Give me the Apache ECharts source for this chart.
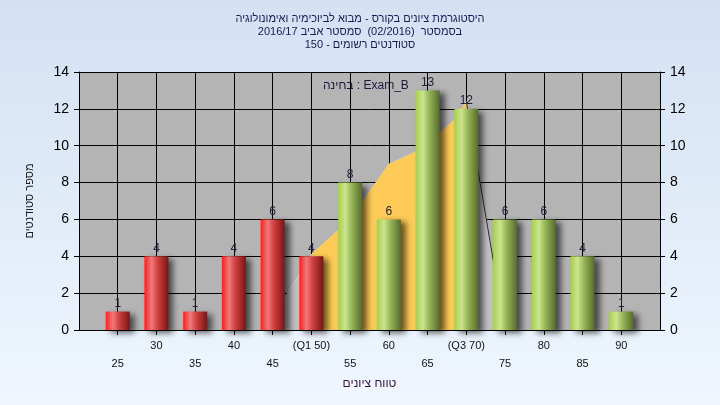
<!DOCTYPE html>
<html>
<head>
<meta charset="utf-8">
<script src="https://cdn.jsdelivr.net/npm/echarts@6/dist/echarts.min.js"></script>
<style>
html,body{margin:0;padding:0;}
#chart{width:720px;height:405px;}
</style>
</head>
<body>
<div id="chart"></div>
<script>
// ---- data ----
const gradeBins = [25, 30, 35, 40, 45, 50, 55, 60, 65, 70, 75, 80, 85, 90];
const studentCounts = [1, 4, 1, 4, 6, 4, 8, 6, 13, 12, 6, 6, 4, 1];
const tickLabels = ['25', '30', '35', '40', '45', '(Q1 50)', '55', '60', '65', '(Q3 70)', '75', '80', '85', '90'];
const failLimit = 50; // bins up to this value drawn red
const curveX = [44, 50, 53.4, 56.5, 60, 63.6, 66.6, 68.2, 70, 75];
const curveY = [0, 4.1, 5.4, 6.9, 9.0, 9.7, 10.7, 11.3, 12.4, 0];
const quartileLow = 50, quartileHigh = 70;
const titleLines = ['היסטוגרמת ציונים בקורס - מבוא לביוכימיה ואימונולוגיה', 'בסמסטר  (02/2016)  סמסטר אביב 2016/17', 'סטודנטים רשומים - 150'];
const legendText = 'בחינה : Exam_B';
const xAxisTitle = 'טווח ציונים';
const yAxisTitle = 'מספר סטודנטים';

const FONT = 'Liberation Sans, Arial, DejaVu Sans, sans-serif';

const redGrad = {type:'linear',x:0,y:0,x2:1,y2:0,colorStops:[
  {offset:0,color:'#ff1c1c'},{offset:0.3,color:'#f07a7a'},{offset:0.55,color:'#d04040'},{offset:1,color:'#7c1414'}]};
const greenGrad = {type:'linear',x:0,y:0,x2:1,y2:0,colorStops:[
  {offset:0,color:'#a6d04a'},{offset:0.3,color:'#cde48e'},{offset:0.55,color:'#98b85a'},{offset:1,color:'#566c2a'}]};

const barData = gradeBins.map((g, i) => ({
  value: [g, studentCounts[i]],
  itemStyle: {color: g <= failLimit ? redGrad : greenGrad}
}));
const curveData = curveX.map((x, i) => [x, curveY[i]]);
const yellowData = curveData.filter(p => p[0] >= quartileLow && p[0] <= quartileHigh);
const rightEdge = curveData.filter(p => p[0] >= quartileHigh);

const labelMap = {};
gradeBins.forEach((g, i) => labelMap[g] = tickLabels[i]);

const chart = echarts.init(document.getElementById('chart'));
chart.setOption({
  animation: false,
  backgroundColor: {type:'linear',x:0,y:0,x2:0,y2:1,colorStops:[{offset:0,color:'#d3e1f3'},{offset:1,color:'#eff6fe'}]},
  textStyle: {fontFamily: FONT},
  title: {
    text: titleLines.join('\n'),
    left: 'center', top: 12, padding: 0,
    textStyle: {fontSize: 11, fontWeight: 'normal', color: '#1a1a50', lineHeight: 13, fontFamily: FONT}
  },
  graphic: [{
    type: 'text', left: 323, top: 80,
    style: {text: legendText, fontSize: 12, fill: '#1a1a40', fontFamily: FONT}
  }],
  grid: {left: 79, right: 60, top: 72, bottom: 75, show: true, backgroundColor: '#b4b4b4', borderWidth: 0},
  xAxis: {
    type: 'value', min: 20, max: 95, interval: 5,
    name: xAxisTitle, nameLocation: 'middle', nameGap: 44,
    nameTextStyle: {fontSize: 12, color: '#3a103a', fontFamily: FONT},
    axisLine: {show: true, lineStyle: {color: '#000', width: 1}},
    axisTick: {show: true, length: 5, lineStyle: {color: '#000'}},
    splitLine: {show: true, lineStyle: {color: '#000', width: 1}},
    axisLabel: {
      color: '#111', fontSize: 11, margin: 7, lineHeight: 18, fontFamily: FONT,
      showMinLabel: false, showMaxLabel: false,
      formatter: v => {
        if (!(v in labelMap)) return '';
        return ((v / 5) % 2 === 1) ? '\n' + labelMap[v] : labelMap[v];
      }
    }
  },
  yAxis: [{
    type: 'value', min: 0, max: 14, interval: 2, position: 'left',
    name: yAxisTitle, nameLocation: 'middle', nameGap: 44, nameRotate: 90,
    nameTextStyle: {fontSize: 11, color: '#1a1a1a', fontFamily: FONT},
    axisLine: {show: true, lineStyle: {color: '#000'}},
    axisTick: {show: true, length: 5, lineStyle: {color: '#000'}},
    splitLine: {show: true, lineStyle: {color: '#000', width: 1}},
    axisLabel: {color: '#000', fontSize: 14, margin: 10, fontFamily: FONT}
  }, {
    type: 'value', min: 0, max: 14, interval: 2, position: 'right',
    axisLine: {show: true, lineStyle: {color: '#000'}},
    axisTick: {show: true, length: 5, lineStyle: {color: '#000'}},
    splitLine: {show: false},
    axisLabel: {color: '#000', fontSize: 14, margin: 10, fontFamily: FONT}
  }],
  series: [{
    type: 'line', data: curveData, symbol: 'none', z: 1,
    lineStyle: {color: '#cdcdcd', width: 1},
    areaStyle: {color: '#c0c0c0', opacity: 1}
  }, {
    type: 'line', data: yellowData, symbol: 'none', z: 2,
    lineStyle: {width: 0},
    areaStyle: {color: '#fecb58', opacity: 1}
  }, {
    type: 'line', data: rightEdge, symbol: 'none', z: 3,
    lineStyle: {color: '#2a2a2a', width: 1}
  }, {
    type: 'bar', data: barData, barWidth: 24, z: 5,
    itemStyle: {shadowColor: 'rgba(0,0,0,0.6)', shadowBlur: 6, shadowOffsetX: 5, shadowOffsetY: 3},
    label: {show: true, position: 'top', distance: 2, fontSize: 12, color: '#20203a', fontFamily: FONT}
  }]
});
</script>
</body>
</html>
